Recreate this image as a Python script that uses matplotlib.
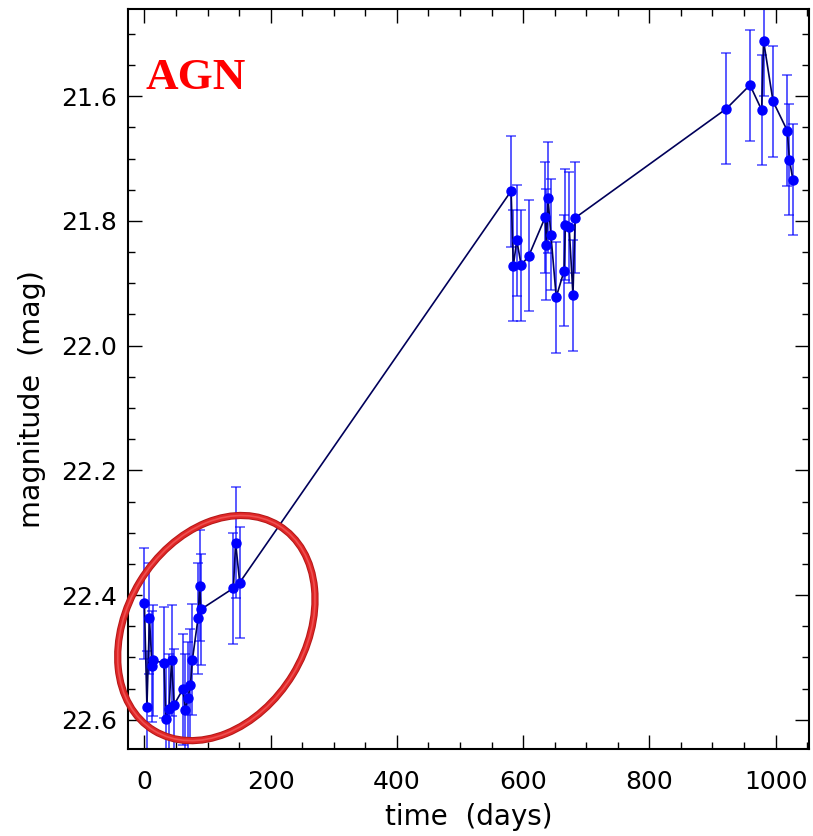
import numpy as np
import matplotlib
matplotlib.use("Agg")
import matplotlib.pyplot as plt
from matplotlib.patches import Ellipse
from matplotlib.transforms import ScaledTranslation
from matplotlib.ticker import MultipleLocator

# light curve of the AGN
t_days = [0, 4, 8, 12, 14, 31, 34, 39, 43, 47, 61, 65, 69, 73, 76, 85, 87.5, 89.5,
          141, 144.5, 151,
          581, 584.5, 590, 597, 609, 635, 637, 639.5, 644, 652.5, 665, 667, 673, 679, 682.5,
          922, 959.5, 978, 981, 996, 1018.5, 1022, 1027.5]
mag = [22.413, 22.579, 22.437, 22.514, 22.505, 22.509, 22.599, 22.583, 22.505, 22.576,
       22.551, 22.584, 22.565, 22.544, 22.504, 22.437, 22.385, 22.423,
       22.389, 22.316, 22.380,
       21.752, 21.872, 21.831, 21.871, 21.856, 21.794, 21.838, 21.763, 21.822, 21.922,
       21.880, 21.806, 21.810, 21.919, 21.795,
       21.620, 21.582, 21.622, 21.511, 21.608, 21.655, 21.702, 21.734]
mag_err = [0.089] * len(mag)

# highlighted region (early epochs)
ring_center = (114, 22.453)

fig = plt.figure(figsize=(8.13, 8.36), dpi=100)
ax = fig.add_axes([128 / 813, 87 / 836, 681 / 813, 740 / 836])

ax.errorbar(t_days, mag, yerr=mag_err, fmt="none", ecolor=(0, 0, 1, 0.7),
            elinewidth=1.3, capsize=3.5, capthick=1.1, zorder=2)
ax.plot(t_days, mag, color="#00005a", lw=1.2, zorder=3)
ax.plot(t_days, mag, "o", color="#0000ff", ms=6.5, mec="#0000ff", zorder=4)

ax.set_xlim(-26, 1053)
ax.set_ylim(22.647, 21.46)
ax.xaxis.set_major_locator(MultipleLocator(200))
ax.xaxis.set_minor_locator(MultipleLocator(50))
ax.yaxis.set_major_locator(MultipleLocator(0.2))
ax.yaxis.set_minor_locator(MultipleLocator(0.05))
ax.yaxis.set_major_formatter(matplotlib.ticker.FormatStrFormatter("%.1f"))

ax.tick_params(which="both", direction="in", top=True, right=True, width=1.0,
               labelsize=18, colors="black")
ax.tick_params(which="major", length=10)
ax.tick_params(which="minor", length=5)
ax.tick_params(axis="x", pad=15)
ax.tick_params(axis="y", pad=8)
for s in ax.spines.values():
    s.set_linewidth(1.5)

ax.set_xlabel("time  (days)", fontsize=20)
ax.set_ylabel("magnitude  (mag)", fontsize=20.5)
ax.xaxis.set_label_coords(0.5, -0.073)
ax.yaxis.set_label_coords(-0.12, 0.473)

ax.text(0.025, 0.8915, "AGN", transform=ax.transAxes, color="#ff0000",
        fontsize=32.5, fontweight="bold", family="Liberation Serif", va="baseline")

# red ring drawn in pixel units around the early epochs
off = fig.dpi_scale_trans + ScaledTranslation(ring_center[0], ring_center[1], ax.transData)
for lw, col in [(5.2, "#b31818"), (3.8, "#e02626"), (1.2, "#ee5050")]:
    ax.add_patch(Ellipse((0, 0), 2.40, 1.79, angle=58.7, fill=False, lw=lw,
                         edgecolor=col, transform=off, clip_on=False, zorder=5))

fig.savefig("out.png", dpi=100)
